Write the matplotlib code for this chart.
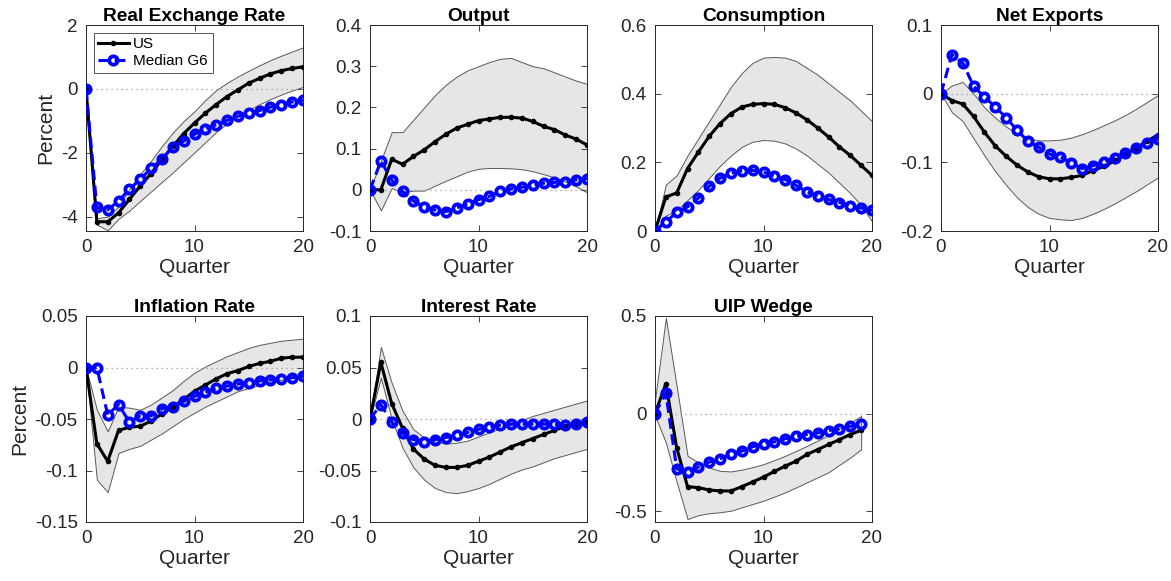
import numpy as np
import matplotlib
matplotlib.use("Agg")
import matplotlib.pyplot as plt
from matplotlib.ticker import FuncFormatter

plt.rcParams["font.family"] = ["Liberation Sans", "DejaVu Sans"]

quarters = list(range(21))

titles = ["Real Exchange Rate", "Output", "Consumption", "Net Exports",
          "Inflation Rate", "Interest Rate", "UIP Wedge"]

# --- Real Exchange Rate
rer_us = [0, -4.16, -4.16, -3.88, -3.46, -3.04, -2.65, -2.21, -1.80, -1.40, -1.07,
          -0.76, -0.49, -0.24, -0.03, 0.18, 0.33, 0.47, 0.57, 0.64, 0.69]
rer_g6 = [0, -3.71, -3.79, -3.51, -3.14, -2.83, -2.49, -2.20, -1.82, -1.64, -1.42,
          -1.25, -1.12, -0.99, -0.86, -0.75, -0.68, -0.57, -0.49, -0.41, -0.36]
rer_hi = [0, -4.05, -4.00, -3.68, -3.14, -2.67, -2.25, -1.79, -1.37, -1.01, -0.70,
          -0.35, -0.04, 0.19, 0.39, 0.57, 0.74, 0.90, 1.04, 1.17, 1.30]
rer_lo = [0, -4.25, -4.43, -4.07, -3.81, -3.51, -3.21, -2.91, -2.62, -2.30, -1.99,
          -1.67, -1.35, -1.08, -0.85, -0.66, -0.48, -0.32, -0.18, -0.05, 0.06]

# --- Output
out_us = [0, 0.0, 0.074, 0.062, 0.081, 0.097, 0.117, 0.135, 0.150, 0.159, 0.168,
          0.172, 0.176, 0.176, 0.174, 0.166, 0.154, 0.146, 0.133, 0.123, 0.109]
out_g6 = [0, 0.070, 0.024, -0.004, -0.027, -0.042, -0.049, -0.053, -0.044, -0.034, -0.024,
          -0.016, -0.004, 0.002, 0.006, 0.011, 0.016, 0.018, 0.020, 0.024, 0.027]
out_hi = [0, 0.070, 0.140, 0.140, 0.170, 0.200, 0.230, 0.255, 0.275, 0.290, 0.300,
          0.310, 0.318, 0.320, 0.310, 0.300, 0.295, 0.285, 0.275, 0.265, 0.257]
out_lo = [0, -0.050, 0.004, -0.006, -0.002, -0.002, 0.010, 0.022, 0.033, 0.044, 0.051,
          0.053, 0.053, 0.052, 0.050, 0.045, 0.038, 0.030, 0.020, 0.008, -0.006]

# --- Consumption
con_us = [0, 0.099, 0.111, 0.182, 0.230, 0.276, 0.313, 0.342, 0.361, 0.369, 0.371,
          0.369, 0.359, 0.344, 0.324, 0.300, 0.274, 0.245, 0.220, 0.191, 0.162]
con_g6 = [0, 0.026, 0.055, 0.070, 0.096, 0.130, 0.154, 0.169, 0.175, 0.177, 0.172,
          0.159, 0.150, 0.133, 0.114, 0.102, 0.092, 0.083, 0.073, 0.067, 0.060]
con_hi = [0, 0.135, 0.162, 0.220, 0.270, 0.320, 0.370, 0.420, 0.460, 0.490, 0.505,
          0.507, 0.505, 0.495, 0.475, 0.455, 0.430, 0.405, 0.380, 0.350, 0.320]
con_lo = [0, 0.045, 0.060, 0.090, 0.120, 0.155, 0.190, 0.220, 0.245, 0.260, 0.265,
          0.263, 0.255, 0.240, 0.220, 0.195, 0.170, 0.140, 0.110, 0.075, 0.028]

# --- Net Exports
nx_us = [0, -0.010, -0.015, -0.033, -0.056, -0.076, -0.091, -0.104, -0.114, -0.121, -0.124,
         -0.124, -0.122, -0.119, -0.112, -0.106, -0.098, -0.088, -0.079, -0.069, -0.060]
nx_g6 = [0, 0.057, 0.045, 0.011, -0.005, -0.019, -0.035, -0.053, -0.069, -0.078, -0.088,
         -0.092, -0.101, -0.109, -0.105, -0.099, -0.094, -0.086, -0.079, -0.072, -0.066]
nx_hi = [0, 0.012, 0.017, 0.000, -0.020, -0.035, -0.048, -0.058, -0.065, -0.068, -0.068,
         -0.067, -0.064, -0.059, -0.053, -0.046, -0.039, -0.031, -0.022, -0.012, -0.002]
nx_lo = [0, -0.027, -0.040, -0.065, -0.090, -0.113, -0.133, -0.151, -0.165, -0.175, -0.181,
         -0.183, -0.184, -0.181, -0.175, -0.168, -0.160, -0.151, -0.142, -0.132, -0.122]

# --- Inflation Rate
inf_us = [0, -0.074, -0.091, -0.061, -0.058, -0.057, -0.052, -0.045, -0.038, -0.031, -0.023,
          -0.017, -0.011, -0.006, -0.003, 0.001, 0.004, 0.006, 0.009, 0.010, 0.010]
inf_g6 = [0, 0.0, -0.046, -0.036, -0.053, -0.047, -0.047, -0.040, -0.038, -0.033, -0.028,
          -0.024, -0.020, -0.018, -0.016, -0.015, -0.013, -0.012, -0.011, -0.010, -0.008]
inf_hi = [0, -0.041, -0.062, -0.038, -0.039, -0.041, -0.036, -0.029, -0.022, -0.013, -0.005,
          0.001, 0.006, 0.011, 0.015, 0.019, 0.022, 0.024, 0.026, 0.027, 0.028]
inf_lo = [0, -0.109, -0.121, -0.083, -0.079, -0.076, -0.070, -0.064, -0.057, -0.050, -0.044,
          -0.038, -0.033, -0.028, -0.023, -0.020, -0.017, -0.014, -0.012, -0.010, -0.009]

# --- Interest Rate
int_us = [0, 0.055, 0.015, -0.009, -0.029, -0.039, -0.045, -0.047, -0.047, -0.045, -0.041,
          -0.037, -0.032, -0.027, -0.023, -0.019, -0.015, -0.011, -0.007, -0.005, -0.003]
int_g6 = [0, 0.014, -0.003, -0.014, -0.020, -0.022, -0.020, -0.018, -0.016, -0.013, -0.010,
          -0.008, -0.006, -0.005, -0.005, -0.005, -0.005, -0.005, -0.006, -0.005, -0.003]
int_hi = [0, 0.070, 0.035, 0.008, -0.010, -0.018, -0.022, -0.024, -0.023, -0.021, -0.017,
          -0.013, -0.009, -0.005, -0.001, 0.003, 0.006, 0.009, 0.012, 0.015, 0.018]
int_lo = [0, 0.040, 0.000, -0.028, -0.047, -0.059, -0.067, -0.071, -0.072, -0.070, -0.067,
          -0.063, -0.058, -0.053, -0.049, -0.046, -0.042, -0.038, -0.035, -0.032, -0.029]

# --- UIP Wedge (only to quarter 19)
uip_us = [0, 0.153, -0.175, -0.374, -0.379, -0.391, -0.396, -0.396, -0.374, -0.350, -0.325,
          -0.296, -0.269, -0.243, -0.209, -0.184, -0.158, -0.133, -0.107, -0.085]
uip_g6 = [0, 0.105, -0.282, -0.299, -0.274, -0.248, -0.231, -0.206, -0.192, -0.170, -0.153,
          -0.145, -0.129, -0.116, -0.107, -0.099, -0.087, -0.077, -0.065, -0.053]
uip_hi = [0.07, 0.490, 0.140, -0.216, -0.250, -0.276, -0.293, -0.296, -0.287, -0.274, -0.259,
          -0.238, -0.216, -0.191, -0.165, -0.138, -0.110, -0.078, -0.046, -0.012]
uip_lo = [-0.01, -0.148, -0.350, -0.540, -0.520, -0.510, -0.505, -0.497, -0.480, -0.463, -0.446,
          -0.425, -0.403, -0.378, -0.352, -0.326, -0.300, -0.262, -0.225, -0.182]

panels = [
    (rer_us, rer_g6, rer_hi, rer_lo, (-4.45, 2), [-4, -2, 0, 2]),
    (out_us, out_g6, out_hi, out_lo, (-0.1, 0.4), [-0.1, 0, 0.1, 0.2, 0.3, 0.4]),
    (con_us, con_g6, con_hi, con_lo, (0, 0.6), [0, 0.2, 0.4, 0.6]),
    (nx_us, nx_g6, nx_hi, nx_lo, (-0.2, 0.1), [-0.2, -0.1, 0, 0.1]),
    (inf_us, inf_g6, inf_hi, inf_lo, (-0.15, 0.05), [-0.15, -0.1, -0.05, 0, 0.05]),
    (int_us, int_g6, int_hi, int_lo, (-0.1, 0.1), [-0.1, -0.05, 0, 0.05, 0.1]),
    (uip_us, uip_g6, uip_hi, uip_lo, (-0.555, 0.5), [-0.5, 0, 0.5]),
]

W, H = 1171, 581
lefts = [86, 370, 655, 941]
tops = [25, 316]
aw, ah = 217, 206
txt = (0.15, 0.15, 0.15)

fig = plt.figure(figsize=(W / 100, H / 100), dpi=100)

for i, (us, g6, hi, lo, ylim, yticks) in enumerate(panels):
    row, col = divmod(i, 4)
    ax = fig.add_axes([lefts[col] / W, 1 - (tops[row] + ah) / H, aw / W, ah / H])
    q = quarters[:len(us)]
    ax.fill_between(q, lo, hi, facecolor=(0.9, 0.9, 0.9), edgecolor=(0.35, 0.35, 0.35),
                    linewidth=0.7, zorder=1)
    ax.axhline(0, color=(0.6, 0.6, 0.6), linestyle=(0, (1, 3)), linewidth=0.9, zorder=2)
    ax.plot(q, us, color="black", linewidth=2.2, marker="o", markersize=3,
            label="US", zorder=3)
    ax.plot(q, g6, color=(0, 0, 1), linewidth=2.2, linestyle=(0, (3.5, 1.8)), marker="o",
            markersize=6, markerfacecolor="none", markeredgewidth=2.7,
            label="Median G6", zorder=4)
    ax.set_xlim(0, 20)
    ax.set_ylim(*ylim)
    ax.set_xticks([0, 10, 20])
    ax.set_yticks(yticks)
    ax.yaxis.set_major_formatter(FuncFormatter(lambda v, p: f"{v:g}"))
    ax.tick_params(direction="in", top=True, right=True, length=4, width=0.6,
                   labelsize=13.5, colors=txt, pad=6)
    for s in ax.spines.values():
        s.set_color(txt)
        s.set_linewidth(0.7)
    ax.set_title(titles[i], fontsize=13.8, fontweight="bold", pad=3, color="black")
    ax.set_xlabel("Quarter", fontsize=15, color=txt, labelpad=1)
    if col == 0:
        ax.set_ylabel("Percent", fontsize=15, color=txt, labelpad=4)
    if i == 0:
        leg = ax.legend(loc="upper left", fontsize=11, frameon=True, fancybox=False,
                        borderpad=0.3, labelspacing=0.2, handlelength=2.0,
                        handletextpad=0.3, borderaxespad=0.5)
        leg.get_frame().set_edgecolor(txt)
        leg.get_frame().set_linewidth(0.7)

fig.savefig("out.png", dpi=100)
